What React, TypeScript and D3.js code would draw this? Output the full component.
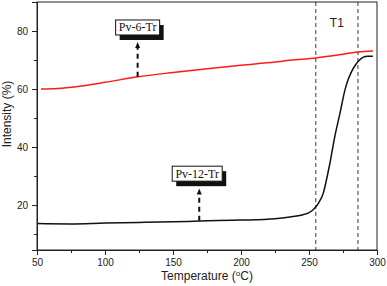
import React, { useEffect, useRef } from "react";
import { axisBottom, axisLeft, scaleLinear, select, line, curveMonotoneX } from "d3";

// Pv-6-Tr (red) : temperature (°C), intensity (%)
const redTemps = [53, 65, 80, 100, 124, 150, 175, 200, 225, 236, 255, 275, 286, 297];
const redValues = [60, 60.2, 60.9, 62.3, 64.2, 65.7, 67, 68.2, 69.3, 69.9, 70.7, 72, 72.8, 73.1];

// Pv-12-Tr (black)
const blackTemps = [50, 75, 100, 125, 150, 170, 200, 225, 236, 245, 250, 253, 257, 260.5, 263, 265.4, 269, 272.8, 276.5, 279, 281.4, 284, 286.3, 290, 293, 297];
const blackValues = [13.6, 13.5, 13.8, 14.0, 14.2, 14.5, 14.8, 15.3, 15.9, 16.6, 17.4, 18.4, 20.7, 24.1, 29, 34.5, 43.7, 51.7, 59.8, 63.5, 66.1, 68.2, 69.6, 71.0, 71.3, 71.3];

const xTicks = [50, 100, 150, 200, 250, 300];
const xMinor = [75, 125, 175, 225, 275];
const yTicks = [20, 40, 60, 80];
const yMinor = [10, 30, 50, 70];
const t1Lines = [255, 286];

const annotations = [
  { label: "Pv-6-Tr", temp: 124, boxTemp: 124, from: 64.2, to: 76.2, boxTop: 83.8, boxW: 44 },
  { label: "Pv-12-Tr", temp: 169.3, boxTemp: 167.8, from: 14.6, to: 25.7, boxTop: 33.4, boxW: 50 },
];

const W = 387;
const H = 286;
const plot = { left: 37, right: 377, top: 2, bottom: 250 };
const sans = "'Liberation Sans', Arial, sans-serif";
const serif = "'Liberation Serif', 'Times New Roman', serif";

function AxisBottom({ scale, ticks, size, labels }) {
  const ref = useRef(null);
  useEffect(() => {
    const ax = axisBottom(scale).tickValues(ticks).tickSize(size).tickPadding(4);
    if (!labels) ax.tickFormat(() => "");
    const g = select(ref.current).call(ax);
    g.select(".domain").attr("stroke", "#222");
    g.selectAll("line").attr("stroke", "#222");
    g.selectAll("text").style("font-size", "10px").style("font-family", sans).attr("fill", "#222");
  }, [scale]);
  return <g ref={ref} transform={`translate(0, ${plot.bottom})`} />;
}

function AxisLeft({ scale, ticks, size, labels }) {
  const ref = useRef(null);
  useEffect(() => {
    const ax = axisLeft(scale).tickValues(ticks).tickSize(size).tickPadding(4);
    if (!labels) ax.tickFormat(() => "");
    const g = select(ref.current).call(ax);
    g.select(".domain").attr("stroke", "#222");
    g.selectAll("line").attr("stroke", "#222");
    g.selectAll("text").style("font-size", "10px").style("font-family", sans).attr("fill", "#222");
  }, [scale]);
  return <g ref={ref} transform={`translate(${plot.left}, 0)`} />;
}

export default function App() {
  const x = scaleLinear().domain([50, 300]).range([plot.left, plot.right]);
  const y = scaleLinear().domain([4.5, 90]).range([plot.bottom, plot.top]);

  const path = line().x((d) => x(d[0])).y((d) => y(d[1])).curve(curveMonotoneX);
  const red = redTemps.map((t, i) => [t, redValues[i]]);
  const black = blackTemps.map((t, i) => [t, blackValues[i]]);

  return (
    <svg width={W} height={H} style={{ position: "absolute", left: 0, top: 0, background: "#fff" }}>
      <rect x={plot.left} y={plot.top} width={plot.right - plot.left} height={plot.bottom - plot.top}
        fill="none" stroke="#222" strokeWidth={1} />
      {t1Lines.map((t) => (
        <line key={t} x1={x(t)} x2={x(t)} y1={plot.top} y2={plot.bottom}
          stroke="#222" strokeWidth={0.9} strokeDasharray="4,3" />
      ))}
      <text x={(x(t1Lines[0]) + x(t1Lines[1])) / 2} y={plot.top + 25} textAnchor="middle"
        fontSize={12} fontFamily={sans} fill="#222">T1</text>

      <path d={path(red)} fill="none" stroke="#ff1a1a" strokeWidth={1.5} />
      <path d={path(black)} fill="none" stroke="#111" strokeWidth={1.5} />

      {annotations.map((a) => {
        const cx = x(a.temp);
        const bx = x(a.boxTemp);
        const top = y(a.boxTop);
        const h = 15;
        const tip = y(a.to);
        return (
          <g key={a.label}>
            <line x1={cx} x2={cx} y1={y(a.from)} y2={tip + 5} stroke="#111" strokeWidth={2} strokeDasharray="5,4" />
            <path d={`M${cx},${tip} L${cx - 2.5},${tip + 6} L${cx + 2.5},${tip + 6} Z`} fill="#111" />
            <rect x={bx - a.boxW / 2 + 4} y={top + 5} width={a.boxW} height={h} fill="#111" />
            <rect x={bx - a.boxW / 2} y={top} width={a.boxW} height={h} fill="#fff" stroke="#111" strokeWidth={1} />
            <text x={bx} y={top + 11.5} textAnchor="middle" fontSize={12} fontFamily={serif} fill="#111">{a.label}</text>
          </g>
        );
      })}

      <AxisBottom scale={x} ticks={xMinor} size={3} labels={false} />
      <AxisBottom scale={x} ticks={xTicks} size={5} labels={true} />
      <AxisLeft scale={y} ticks={yMinor} size={3} labels={false} />
      <AxisLeft scale={y} ticks={yTicks} size={5} labels={true} />

      <text x={(plot.left + plot.right) / 2} y={280} textAnchor="middle" fontSize={12} fontFamily={sans} fill="#222">
        Temperature (<tspan fontSize={8} dy={-4}>o</tspan><tspan dy={4}>C)</tspan>
      </text>
      <text transform={`translate(11, 114) rotate(-90)`} textAnchor="middle" fontSize={12} fontFamily={sans} fill="#222">
        Intensity (%)
      </text>
    </svg>
  );
}
